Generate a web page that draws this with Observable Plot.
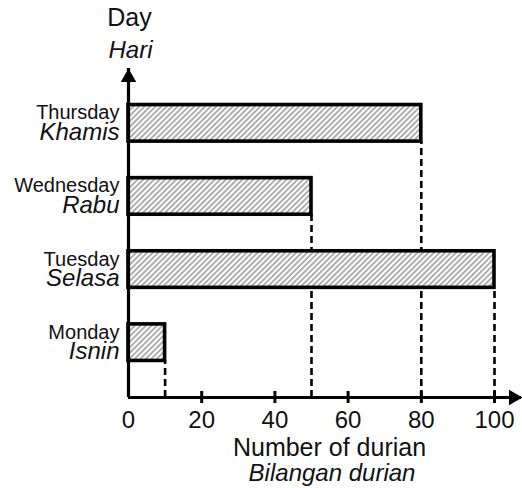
<!DOCTYPE html>
<html>
<head>
<meta charset="utf-8">
<script src="https://cdn.jsdelivr.net/npm/d3@7"></script>
<script src="https://cdn.jsdelivr.net/npm/@observablehq/plot@0.6"></script>
<style>
  html, body { margin: 0; padding: 0; background: #fff; }
  svg { display: block; }
</style>
</head>
<body>
<div id="chart"></div>
<script>
// ---- data ----
const days = ["Monday", "Tuesday", "Wednesday", "Thursday"];
const hari = ["Isnin", "Selasa", "Rabu", "Khamis"];
const durians = [10, 100, 50, 80];
const xTicks = [0, 20, 40, 60, 80, 100];
const yTitle = ["Day", "Hari"];
const xTitle = ["Number of durian", "Bilangan durian"];

const data = days.map((d, i) => ({ day: d, hari: hari[i], value: durians[i], i }));

const yMin = -0.75, yMax = days.length - 0.25;
const half = 0.25;
const font = "'Liberation Sans', Arial, Helvetica, sans-serif";

const hatchDefs = () => {
  const defs = d3.create("svg:defs");
  const p = defs.append("pattern")
    .attr("id", "hatch")
    .attr("patternUnits", "userSpaceOnUse")
    .attr("width", 3.9).attr("height", 3.9)
    .attr("patternTransform", "rotate(45)");
  p.append("rect").attr("width", 3.9).attr("height", 3.9).attr("fill", "#fff");
  p.append("line").attr("x1", 1.95).attr("y1", 0).attr("x2", 1.95).attr("y2", 3.9)
    .attr("stroke", "#6e6e6e").attr("stroke-width", 1.1);
  return defs.node();
};

const chart = Plot.plot({
  width: 522,
  height: 488,
  marginTop: 68,
  marginBottom: 91,
  marginLeft: 128,
  marginRight: 1,
  style: { fontFamily: font, color: "#000", background: "#fff", overflow: "visible" },
  x: { domain: [0, 100], range: [128, 494] },
  y: { domain: [yMin, yMax], axis: null },
  marks: [
    hatchDefs,
    // dashed drop lines
    Plot.ruleX(data, {
      x: "value", y1: yMin, y2: d => d.i - half,
      stroke: "#000", strokeWidth: 2.6, strokeDasharray: "7,4"
    }),
    // bars
    Plot.rectX(data, {
      x1: 0, x2: "value", y1: d => d.i - half, y2: d => d.i + half,
      fill: "url(#hatch)", stroke: "#000", strokeWidth: 3.6
    }),
    // axes lines
    Plot.ruleX([0], { stroke: "#000", strokeWidth: 3.2 }),
    Plot.ruleY([yMin], { stroke: "#000", strokeWidth: 3.2 }),
    // x tick marks
    Plot.ruleX(xTicks.slice(1), {
      x: d => d, y1: yMin, y2: yMin, insetTop: -6, insetBottom: -6,
      stroke: "#000", strokeWidth: 3
    }),
    // arrow heads
    Plot.dot([0], { x: 0, y: yMax, symbol: "triangle2", r: 7.4, fill: "#000", stroke: "none", dy: 9 }),
    Plot.dot([0], { frameAnchor: "bottom-right", x: null, y: yMin, symbol: "triangle2", r: 7.4, fill: "#000", stroke: "none", rotate: 90, dx: -8 }),
    // x tick labels
    Plot.axisX(xTicks, {
      tickSize: 0, tickPadding: 13, fontSize: 24, label: null, fill: "#111"
    }),
    // category labels
    Plot.text(data, {
      x: 0, y: "i", text: "day", textAnchor: "end", lineAnchor: "bottom",
      dx: -9, dy: -4, fontSize: 20, fill: "#111"
    }),
    Plot.text(data, {
      x: 0, y: "i", text: "hari", textAnchor: "end", lineAnchor: "bottom",
      dx: -9, dy: 16.5, fontSize: 24, fontStyle: "italic", fill: "#111"
    }),
    // y title
    Plot.text([yTitle[0]], {
      x: 0, y: yMax, text: d => d, textAnchor: "middle", lineAnchor: "bottom",
      dy: -43, dx: 1, fontSize: 25, fill: "#111"
    }),
    Plot.text([yTitle[1]], {
      x: 0, y: yMax, text: d => d, textAnchor: "middle", lineAnchor: "bottom",
      dy: -11, dx: 2, fontSize: 24, fontStyle: "italic", fill: "#111"
    }),
    // x title
    Plot.text([xTitle[0]], {
      frameAnchor: "bottom", text: d => d, lineAnchor: "bottom",
      dy: 58, dx: 4.5, fontSize: 25, fill: "#111"
    }),
    Plot.text([xTitle[1]], {
      frameAnchor: "bottom", text: d => d, lineAnchor: "bottom",
      dy: 83, dx: 7, fontSize: 24, fontStyle: "italic", fill: "#111"
    })
  ]
});

document.getElementById("chart").appendChild(chart);
</script>
</body>
</html>
